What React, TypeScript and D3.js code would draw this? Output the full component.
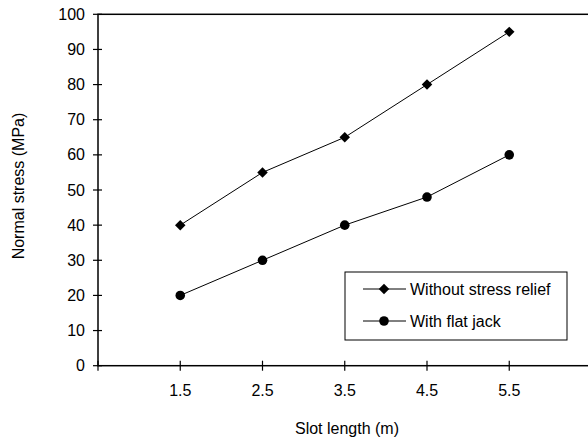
import * as d3 from "d3";
import React, { useEffect, useRef } from "react";

// slot lengths (m) and normal stress (MPa)
const slotLengths = [1.5, 2.5, 3.5, 4.5, 5.5];
const withoutRelief = [40, 55, 65, 80, 95];
const withFlatJack = [20, 30, 40, 48, 60];
const yTicks = [0, 10, 20, 30, 40, 50, 60, 70, 80, 90, 100];
const xTicks = [0.5, 1.5, 2.5, 3.5, 4.5, 5.5, 6.5];
const seriesNames = ["Without stress relief", "With flat jack"];

const FONT = "'Liberation Sans', Arial, sans-serif";

export default function App() {
  const ref = useRef<SVGSVGElement>(null);

  useEffect(() => {
    const width = 588;
    const height = 443;
    const svg = d3.select(ref.current);
    svg.selectAll("*").remove();

    const x = d3.scaleLinear().domain([0.5, 6.5]).range([98, 591.5]);
    const y = d3.scaleLinear().domain([0, 100]).range([365.7, 14.3]);

    const g = svg.append("g").style("font-family", FONT).style("font-size", "16px");

    // plot frame (top + right edges fall at / past the window edge)
    g.append("rect")
      .attr("x", x(0.5))
      .attr("y", y(100))
      .attr("width", x(6.5) - x(0.5))
      .attr("height", y(0) - y(100))
      .attr("fill", "none")
      .attr("stroke", "#000")
      .attr("stroke-width", 1.5);

    // y axis
    const yAxis = g.append("g");
    yAxis.selectAll("line")
      .data(yTicks)
      .join("line")
      .attr("x1", x(0.5) - 5)
      .attr("x2", x(0.5) + 4)
      .attr("y1", d => y(d))
      .attr("y2", d => y(d))
      .attr("stroke", "#000")
      .attr("stroke-width", 1.2);
    yAxis.selectAll("text")
      .data(yTicks)
      .join("text")
      .attr("x", 85)
      .attr("y", d => y(d))
      .attr("dy", "0.35em")
      .attr("text-anchor", "end")
      .text(d => d);

    // x axis
    const xAxis = g.append("g");
    xAxis.selectAll("line")
      .data(xTicks)
      .join("line")
      .attr("x1", d => x(d))
      .attr("x2", d => x(d))
      .attr("y1", y(0) - 5)
      .attr("y2", y(0) + 5)
      .attr("stroke", "#000")
      .attr("stroke-width", 1.2);
    xAxis.selectAll("text")
      .data(slotLengths)
      .join("text")
      .attr("x", d => x(d))
      .attr("y", 396)
      .attr("text-anchor", "middle")
      .text(d => d3.format(".1f")(d));

    // axis titles
    g.append("text")
      .attr("x", 347)
      .attr("y", 434)
      .attr("text-anchor", "middle")
      .text("Slot length (m)");

    g.append("text")
      .attr("transform", "rotate(-90)")
      .attr("x", -186)
      .attr("y", 24)
      .attr("text-anchor", "middle")
      .text("Normal stress (MPa)");

    const line = d3.line<number>()
      .x((_, i) => x(slotLengths[i]))
      .y(d => y(d));

    const diamond = d3.symbol().type(d3.symbolDiamond2).size(70);
    const circle = d3.symbol().type(d3.symbolCircle).size(72);

    const series = [
      { values: withoutRelief, symbol: diamond },
      { values: withFlatJack, symbol: circle }
    ];

    series.forEach(s => {
      g.append("path")
        .datum(s.values)
        .attr("fill", "none")
        .attr("stroke", "#000")
        .attr("stroke-width", 1)
        .attr("d", line);
      g.selectAll(null)
        .data(s.values)
        .join("path")
        .attr("transform", (d, i) => `translate(${x(slotLengths[i])},${y(d)})`)
        .attr("d", s.symbol())
        .attr("fill", "#000");
    });

    // legend
    const legend = g.append("g");
    legend.append("rect")
      .attr("x", 345)
      .attr("y", 272)
      .attr("width", 222)
      .attr("height", 68)
      .attr("fill", "#fff")
      .attr("stroke", "#000")
      .attr("stroke-width", 1);

    seriesNames.forEach((name, i) => {
      const cy = 289 + i * 32;
      legend.append("line")
        .attr("x1", 363)
        .attr("x2", 406)
        .attr("y1", cy)
        .attr("y2", cy)
        .attr("stroke", "#000")
        .attr("stroke-width", 1);
      legend.append("path")
        .attr("transform", `translate(384,${cy})`)
        .attr("d", series[i].symbol())
        .attr("fill", "#000");
      legend.append("text")
        .attr("x", 410)
        .attr("y", cy)
        .attr("dy", "0.35em")
        .text(name);
    });

    svg.attr("width", width).attr("height", height);
  }, []);

  return (
    <svg
      ref={ref}
      width={588}
      height={443}
      style={{ position: "absolute", left: 0, top: 0, background: "#fff" }}
    />
  );
}
